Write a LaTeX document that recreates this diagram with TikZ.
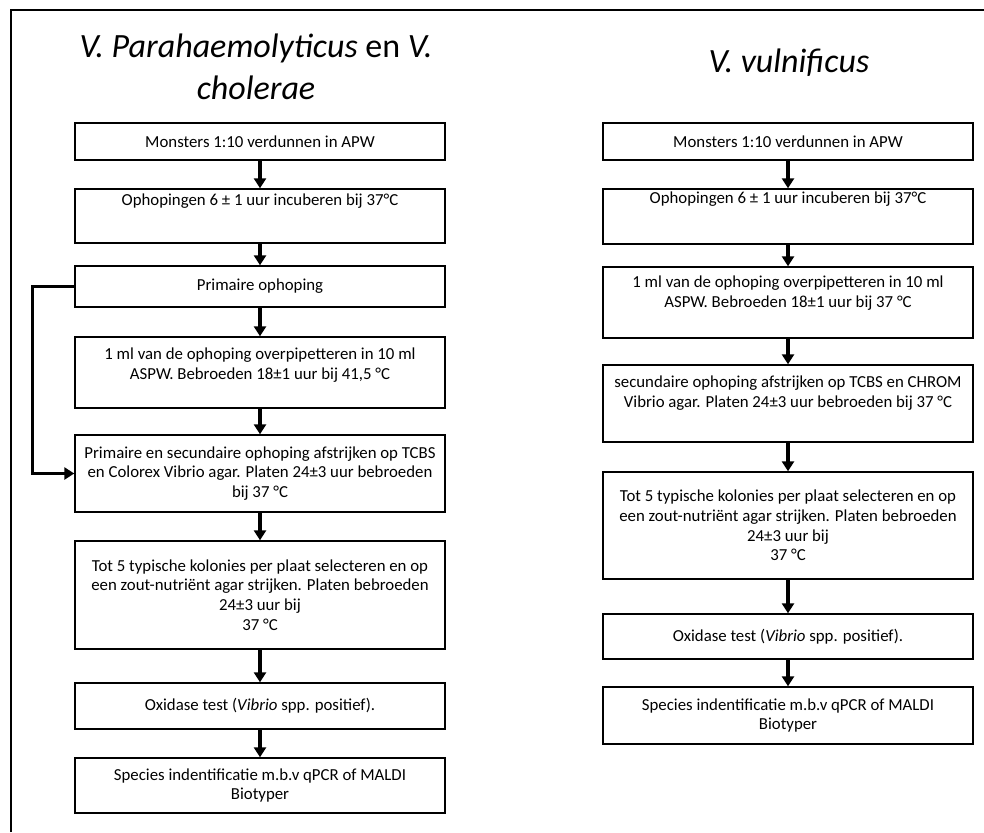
\documentclass[tikz,border=0pt]{standalone}
\usepackage{fontspec}
\setmainfont{Carlito}
\usetikzlibrary{arrows.meta}

\newcommand*{\kolL}{260}
\newcommand*{\kolR}{788}

\begin{document}
\begin{tikzpicture}
[
	x=1pt,y=-1pt,
	stap/.style={draw,line width=1.4pt,minimum width=370pt,inner sep=0pt,align=center,font=\fontsize{16.8}{19.7}\selectfont},
	tekst/.style={align=center,anchor=base,font=\fontsize{16.8}{19.7}\selectfont},
	pijl/.style={line width=3.2pt,-{Triangle[width=12pt,length=10pt]}},
	titel/.style={align=center,anchor=base,font=\fontsize{34}{42}\selectfont\itshape}
]
	\useasboundingbox (0,0) rectangle (984,832);

	% frame
	\draw[line width=1.4pt] (11,832) -- (11,10) -- (984,10);

	% titles (base = last line)
	\node[titel] at (256,100) (titelL) {V. Parahaemolyticus {\upshape en} V.\\cholerae};
	\node[titel] at (789,73) (titelR) {V. vulnificus};

	% left column
	\node[stap,minimum height=37pt] at (\kolL,141.5) (l1) {Monsters 1:10 verdunnen in APW};
	\node[stap,minimum height=54pt,label={[tekst,yshift=-17pt]north:{Ophopingen 6 ± 1 uur incuberen bij 37°C}}] at (\kolL,216) (l2) {};
	\node[stap,minimum height=41pt] at (\kolL,286.5) (l3) {Primaire ophoping};
	\node[stap,minimum height=71pt,label={[tekst,yshift=-43pt]north:{1 ml van de ophoping overpipetteren in 10 ml\\ASPW. Bebroeden 18±1 uur bij 41,5 °C}}] at (\kolL,372.5) (l4) {};
	\node[stap,minimum height=77pt] at (\kolL,473.5) (l5) {Primaire en secundaire ophoping afstrijken op TCBS\\en Colorex Vibrio agar. Platen 24±3 uur bebroeden\\bij 37 °C};
	\node[stap,minimum height=108pt] at (\kolL,595) (l6) {Tot 5 typische kolonies per plaat selecteren en op\\een zout-nutriënt agar strijken. Platen bebroeden\\24±3 uur bij\\37 °C};
	\node[stap,minimum height=46pt] at (\kolL,706) (l7) {Oxidase test (\textit{Vibrio} spp. positief).};
	\node[stap,minimum height=55pt] at (\kolL,785.5) (l8) {Species indentificatie m.b.v qPCR of MALDI\\Biotyper};

	\draw[pijl] (l1) -- (l2);
	\draw[pijl] (l2) -- (l3);
	\draw[pijl] (l3) -- (l4);
	\draw[pijl] (l4) -- (l5);
	\draw[pijl] (l5) -- (l6);
	\draw[pijl] (l6) -- (l7);
	\draw[pijl] (l7) -- (l8);
	% primaire ophoping direct naar afstrijken
	\draw[pijl] (l3.west) -- ++(-42,0) |- (l5.west);

	% right column
	\node[stap,minimum height=37pt] at (\kolR,141.5) (r1) {Monsters 1:10 verdunnen in APW};
	\node[stap,minimum height=55pt,label={[tekst,yshift=-15pt]north:{Ophopingen 6 ± 1 uur incuberen bij 37°C}}] at (\kolR,216.5) (r2) {};
	\node[stap,minimum height=71pt,label={[tekst,yshift=-41pt]north:{1 ml van de ophoping overpipetteren in 10 ml\\ASPW. Bebroeden 18±1 uur bij 37 °C}}] at (\kolR,302.5) (r3) {};
	\node[stap,minimum height=77pt,label={[tekst,yshift=-43pt]north:{secundaire ophoping afstrijken op TCBS en CHROM\\Vibrio agar. Platen 24±3 uur bebroeden bij 37 °C}}] at (\kolR,403.5) (r4) {};
	\node[stap,minimum height=107pt] at (\kolR,525.5) (r5) {Tot 5 typische kolonies per plaat selecteren en op\\een zout-nutriënt agar strijken. Platen bebroeden\\24±3 uur bij\\37 °C};
	\node[stap,minimum height=45pt] at (\kolR,636.5) (r6) {Oxidase test (\textit{Vibrio} spp. positief).};
	\node[stap,minimum height=57pt] at (\kolR,715.5) (r7) {Species indentificatie m.b.v qPCR of MALDI\\Biotyper};

	\draw[pijl] (r1) -- (r2);
	\draw[pijl] (r2) -- (r3);
	\draw[pijl] (r3) -- (r4);
	\draw[pijl] (r4) -- (r5);
	\draw[pijl] (r5) -- (r6);
	\draw[pijl] (r6) -- (r7);

\end{tikzpicture}
\end{document}
